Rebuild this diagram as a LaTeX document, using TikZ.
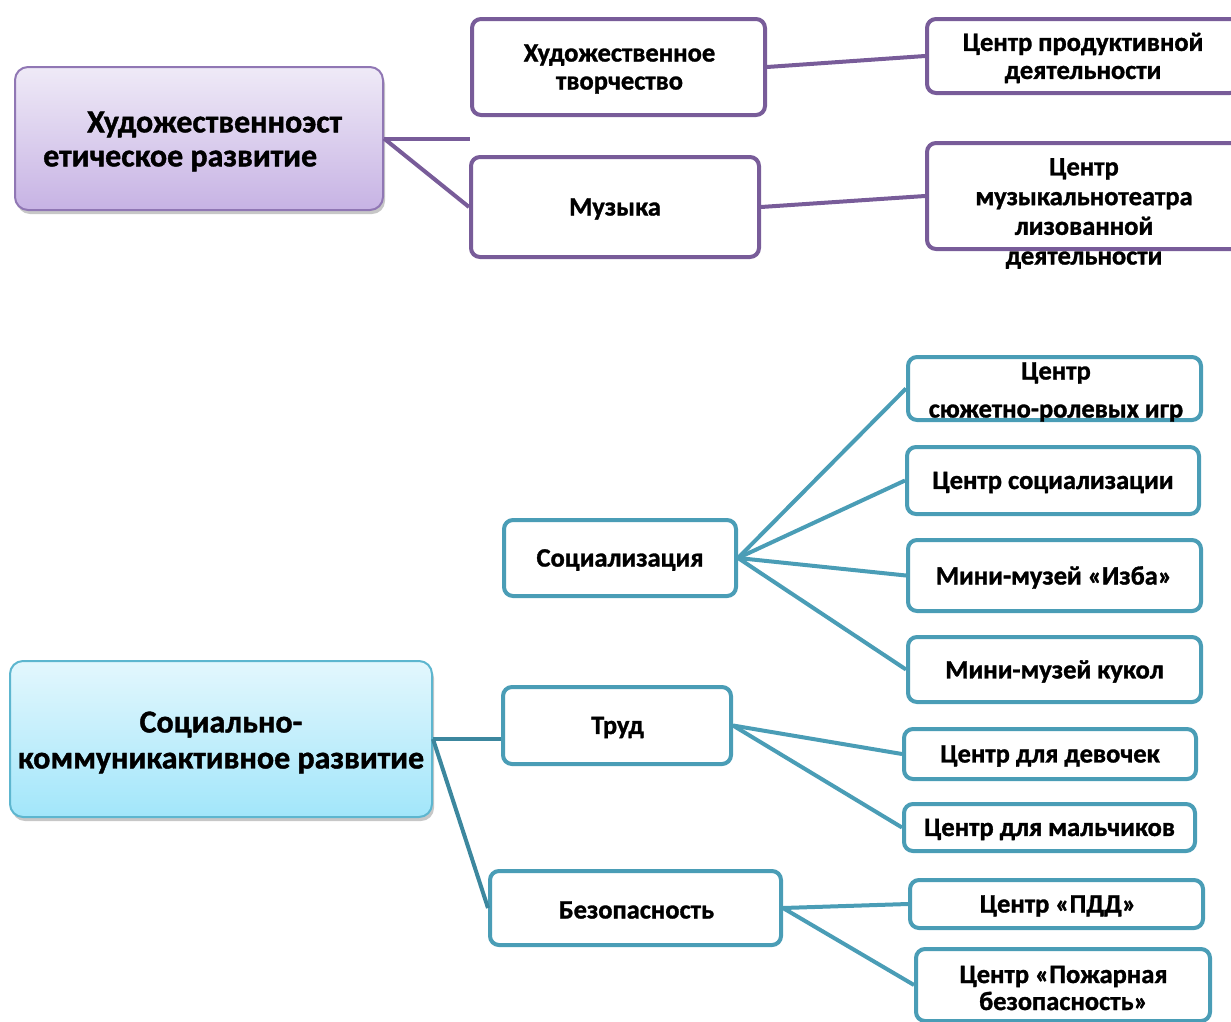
\documentclass[tikz,border=0pt]{standalone}
\usepackage{fontspec}
\setmainfont{Carlito}[BoldFeatures={FakeBold=1.2}]
\usetikzlibrary{shadows}
\definecolor{pline}{HTML}{785C99}
\definecolor{pmainborder}{HTML}{9077B4}
\definecolor{ptop}{HTML}{EFEAF7}
\definecolor{pbot}{HTML}{C7B3E4}
\definecolor{tline}{HTML}{4A9DB6}
\definecolor{tdark}{HTML}{3C879E}
\definecolor{tmainborder}{HTML}{5DB6CF}
\definecolor{ttop}{HTML}{E3F7FD}
\definecolor{tbot}{HTML}{A2E6FA}
\newcommand{\smallfont}{\bfseries\fontsize{26.5}{28}\selectfont}
\newcommand{\bigfont}{\bfseries\fontsize{32}{34}\selectfont}
\begin{document}
\begin{tikzpicture}[x=1pt,y=-1pt,
  pbox/.style={draw=pline, line width=4pt, rounded corners=9pt, fill=white, inner sep=0pt, align=center, font=\smallfont},
  tbox/.style={draw=tline, line width=4pt, rounded corners=9pt, fill=white, inner sep=0pt, align=center, font=\smallfont},
  txt/.style={inner sep=0pt, align=center, font=\smallfont},
  pconn/.style={draw=pline, line width=4pt},
  tconn/.style={draw=tline, line width=4pt},
  tmconn/.style={draw=tdark, line width=4pt},
  mainshadow/.style={drop shadow={shadow xshift=2pt, shadow yshift=-4pt, fill=black, opacity=0.22}},
  pmainbox/.style={draw=pmainborder, line width=2pt, rounded corners=13pt, top color=ptop, bottom color=pbot, inner sep=0pt, mainshadow},
  tmainbox/.style={draw=tmainborder, line width=2pt, rounded corners=13pt, top color=ttop, bottom color=tbot, inner sep=0pt, mainshadow},
  wh/.style 2 args={minimum width=#1pt, minimum height=#2pt}
]
\useasboundingbox (0,0) rectangle (1231,1021);

% ---------- purple section ----------
\node[pmainbox, wh={368}{143}] (pmain) at (199,138.5) {};
\node[anchor=west, align=left, inner sep=0pt, font=\bigfont] (pmaintext) at (43,141.5)
  {\hspace*{44pt}Художественноэст\\етическое развитие};
\node[pbox, wh={293}{96}] (art) at (618.5,67) {};
\node[txt] at (619.5,69) {Художественное\\творчество};
\node[pbox, wh={288}{100}] (mus) at (615,207) {};
\node[txt] at (615,209) {Музыка};
\node[pbox, wh={312}{74}] (prod) at (1083,56) {};
\node[txt] at (1083,58) {Центр продуктивной\\деятельности};
\node[pbox, wh={314}{106}] (musth) at (1084,196) {};
\node[txt, font=\bfseries\fontsize{26.5}{29.7}\selectfont] (musthtext) at (1084,213.5)
  {Центр\\музыкальнотеатра\\лизованной\\деятельности};
\coordinate (pfree) at (art.west |- pmain.east);

\draw[pconn] (pmain.east) -- (pfree);
\draw[pconn] (pmain.east) -- (mus.west);
\draw[pconn] (art.east) -- (prod.west);
\draw[pconn] (mus.east) -- (musth.west);

% ---------- teal section ----------
\node[tmainbox, wh={422}{156}] (tmain) at (221,739) {};
\node[txt, font=\bfseries\fontsize{32}{36}\selectfont] at (221,742.5) {Социально-\\коммуникактивное развитие};
\node[tbox, wh={232}{76}] (soc) at (620,558) {};
\node[txt] at (620,560) {Социализация};
\node[tbox, wh={228}{77}] (trud) at (617,725.5) {};
\node[txt] at (617.5,727.5) {Труд};
\node[tbox, wh={291}{74}] (bez) at (635.5,908) {};
\node[txt] at (636.5,910) {Безопасность};
\node[tbox, wh={293}{63}] (syuzh) at (1054.5,388.5) {};
\node[txt] at (1056,392) {Центр\\[10pt]сюжетно-ролевых игр};
\node[tbox, wh={292}{67}] (socc) at (1053,480.5) {};
\node[txt] at (1053,482.5) {Центр социализации};
\node[tbox, wh={293}{71}] (izba) at (1054.5,575.5) {};
\node[txt] at (1054,577.5) {Мини-музей «Изба»};
\node[tbox, wh={293}{65}] (kukol) at (1054.5,669.5) {};
\node[txt] at (1054.5,671.5) {Мини-музей кукол};
\node[tbox, wh={292}{50}] (dev) at (1050,754) {};
\node[txt] at (1050,756) {Центр для девочек};
\node[tbox, wh={291}{47}] (mal) at (1049.5,827.5) {};
\node[txt] at (1049.5,829.5) {Центр для мальчиков};
\node[tbox, wh={293}{48}] (pdd) at (1056.5,904) {};
\node[txt] at (1058,906) {Центр «ПДД»};
\node[tbox, wh={294}{72}] (pozh) at (1063,985) {};
\node[txt, font=\bfseries\fontsize{26.5}{27}\selectfont] at (1063.5,988) {Центр «Пожарная\\безопасность»};

\draw[tmconn] (tmain.east) -- (trud.west |- tmain.east);
\draw[tmconn] (tmain.east) -- (bez.west);
\draw[tconn] (soc.east) -- (syuzh.west);
\draw[tconn] (soc.east) -- (socc.west);
\draw[tconn] (soc.east) -- (izba.west);
\draw[tconn] (soc.east) -- (kukol.west);
\draw[tconn] (trud.east) -- (dev.west);
\draw[tconn] (trud.east) -- (mal.west);
\draw[tconn] (bez.east) -- (pdd.west);
\draw[tconn] (bez.east) -- (pozh.west);
\end{tikzpicture}
\end{document}
